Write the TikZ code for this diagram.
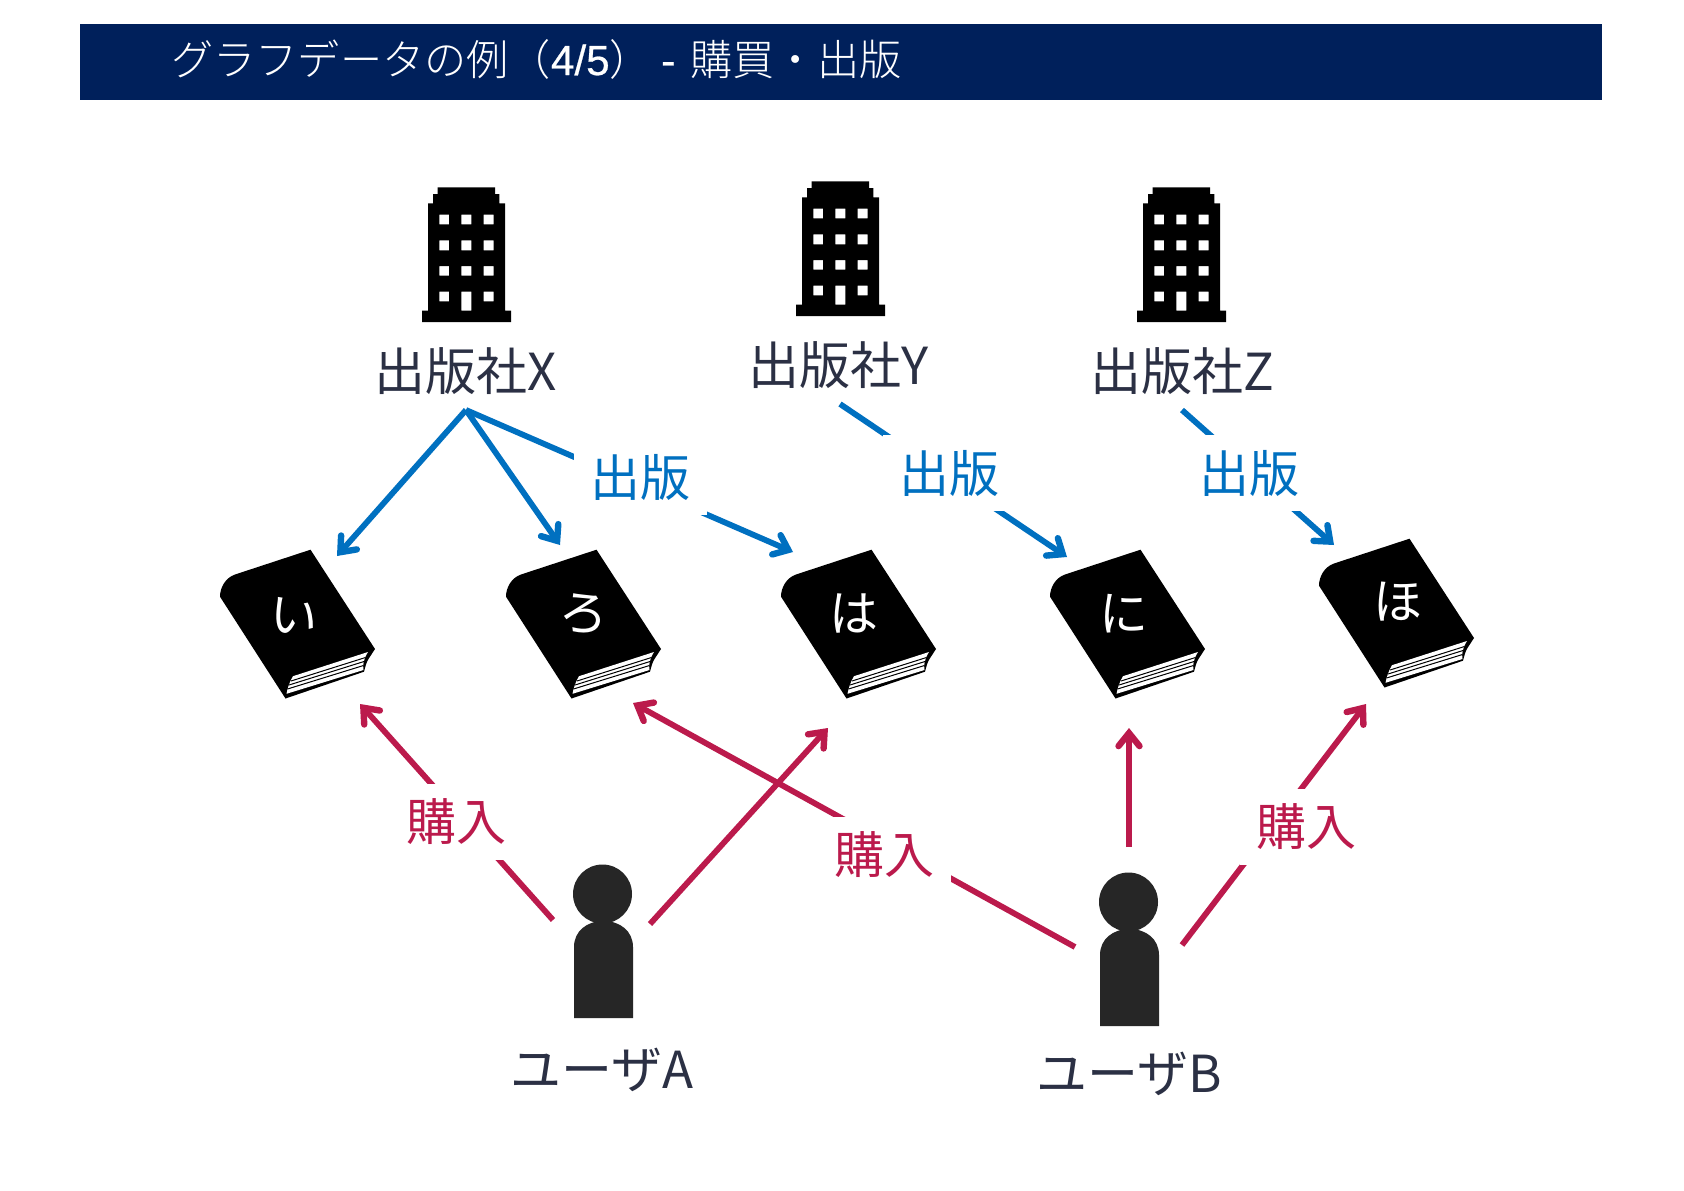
\documentclass[tikz,border=0pt]{standalone}
\usepackage{fontspec}
\setmainfont{Noto Sans CJK JP}
\newfontfamily\lightf{Noto Sans CJK JP Light}
\newfontfamily\lat[FakeBold=0.6]{Liberation Sans}
\usetikzlibrary{arrows.meta}
\definecolor{banner}{HTML}{00205B}
\definecolor{inkc}{HTML}{2B3044}
\definecolor{bluec}{HTML}{0070C0}
\definecolor{redc}{HTML}{BB1A4C}
\definecolor{persc}{HTML}{262626}
\newcommand{\fs}[1]{\fontsize{#1}{#1}\selectfont}
\tikzset{
  x=1pt,y=-1pt,
  lab/.style={inner sep=0pt,text=inkc,font=\fs{51}},
  rel/.style={inner sep=0pt,fill=white,minimum width=133pt,minimum height=76pt,font=\fs{50}},
  publ/.style={line width=5.8pt,draw=bluec,line cap=butt,-{Straight Barb[length=13pt,width=21pt,line width=6.4pt,line cap=round]}},
  buy/.style={line width=5.8pt,draw=redc,line cap=butt,-{Straight Barb[length=13pt,width=21pt,line width=6.4pt,line cap=round]}},
  glyph/.style={inner sep=0pt,text=white,font=\fs{49}},
  building/.pic={
    \fill[black,even odd rule]
      (37.7,17.3)--(95,17.3)--(95,24)--(99.3,24)--(99.3,33.3)--(105,33.3)--(105,140.7)--(111,140.7)--(111,152)--(22,152)--(22,140.7)--(28,140.7)--(28,33.3)--(33,33.3)--(33,24)--(37.7,24)--cycle
      (39.3,44.7) rectangle (49,54.3) (61.3,44.7) rectangle (71.3,54.3) (83.7,44.7) rectangle (93.7,54.3)
      (39.3,70.3) rectangle (49,80.3) (61.3,70.3) rectangle (71.3,80.3) (83.7,70.3) rectangle (93.7,80.3)
      (39.3,96) rectangle (49,105.7) (61.3,96) rectangle (71.3,105.7) (83.7,96) rectangle (93.7,105.7)
      (39.3,121.7) rectangle (49,131.3) (61.3,121.7) rectangle (71.3,140.7) (83.7,121.7) rectangle (93.7,131.3);
  },
  bookpic/.pic={
    \fill[black] (120.5,19.7)--(45,44.5) .. controls (35,48) and (30,58) .. (30,66.7)--(95.5,168.5)--(174,141.7) .. controls (175.5,136) and (176.5,132) .. (178.5,129)--(185,119)--cycle;
    \fill[white] (178,122)--(103,146.2) .. controls (100,151) and (97.5,158) .. (96.5,163.8)--(173.5,140) .. controls (172.5,135) and (173.5,129) .. (178,122)--cycle;
    \draw[black,line width=1pt] (175.5,127.5)--(101,151) (174,131.5)--(99,155) (173.5,135.5)--(97.5,159);
  },
  personpic/.pic={
    \fill[persc] (62.5,44) circle (29.5);
    \fill[persc] (34,168) -- (34,97) .. controls (34,81) and (47,71) .. (63.5,71) .. controls (80,71) and (93,81) .. (93,97) -- (93,168) -- cycle;
  }
}
\begin{document}
\begin{tikzpicture}
\useasboundingbox (0,0) rectangle (1684,1191);
\fill[white] (0,0) rectangle (1684,1191);
\fill[banner] (80,24) rectangle (1602,100);
\node[anchor=west,inner sep=0pt,text=white,font=\fs{42.2}\lightf] (title) at (171,59) {グラフデータの例（{\lat 4/5}） {\lat -}\hspace{6pt} 購買・出版};

% publishers
\pic (bx) at (400,170) {building};
\pic (by) at (774,164) {building};
\pic (bz) at (1115,170) {building};
\node[lab] (px) at (466,371) {出版社X};
\node[lab] (py) at (839,365) {出版社Y};
\node[lab] (pz) at (1182,371) {出版社Z};

% books
\pic (b1) at (190,530) {bookpic};
\pic (b2) at (476,530) {bookpic};
\pic (b3) at (751,530) {bookpic};
\pic (b4) at (1020,530) {bookpic};
\pic (b5) at (1289,519) {bookpic};
\node[glyph,rotate=-8] (g1) at (294,617) {い};
\node[glyph,rotate=-8] (g2) at (584,614) {ろ};
\node[glyph] (g3) at (854,614) {は};
\node[glyph] (g4) at (1124,614) {に};
\node[glyph] (g5) at (1398,602) {ほ};

% users
\pic (ua) at (540,850) {personpic};
\pic (ub) at (1066,858) {personpic};
\node[lab] (na) at (602,1070) {ユーザA};
\node[lab] (nb) at (1129,1074) {ユーザB};

% connector ends
\coordinate (xo) at (466,410);
\coordinate (yo) at (840,404);
\coordinate (zo) at (1182,410);
\coordinate (t1) at (337,556);
\coordinate (t2) at (560,545);
\coordinate (t3) at (793,552);
\coordinate (t4) at (1067,557);
\coordinate (t5) at (1334,545);
\coordinate (aa) at (553,920);
\coordinate (ab) at (650,924);
\coordinate (ba) at (1075,947);
\coordinate (bb) at (1129,847);
\coordinate (bc) at (1182,945);
\coordinate (r1) at (360,704);
\coordinate (r2) at (633,703);
\coordinate (r3) at (828,728);
\coordinate (r4) at (1129,728);
\coordinate (r5) at (1366,704);

\draw[publ] (xo)--(t1);
\draw[publ] (xo)--(t2);
\draw[publ] (xo)--(t3);
\draw[publ] (yo)--(t4);
\draw[publ] (zo)--(t5);
\draw[buy] (aa)--(r1);
\draw[buy] (ab)--(r3);
\draw[buy] (ba)--(r2);
\draw[buy] (bb)--(r4);
\draw[buy] (bc)--(r5);

\node[rel,text=bluec] (l1) at (640,477) {出版};
\node[rel,text=bluec] (l2) at (949,473) {出版};
\node[rel,text=bluec] (l3) at (1249,473) {出版};
\node[rel,text=redc] (l4) at (456,822) {購入};
\node[rel,text=redc] (l5) at (884,855) {購入};
\node[rel,text=redc] (l6) at (1306,827) {購入};
\end{tikzpicture}
\end{document}
